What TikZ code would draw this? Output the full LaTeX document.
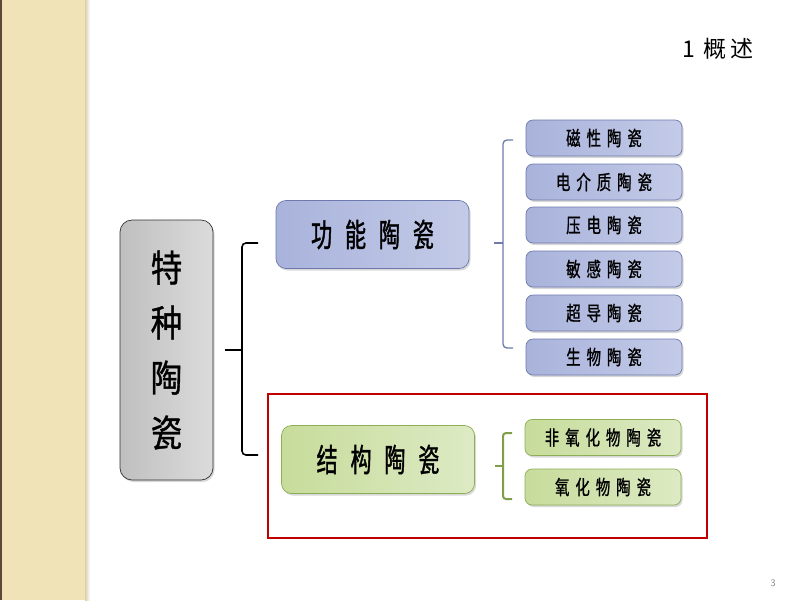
\documentclass[tikz,border=0pt]{standalone}
\usepackage{fontspec}
\usepackage{xcolor}
\usepackage{tikz}
\usetikzlibrary{shadows, calc}
\newfontfamily\cjk[LetterSpace=15]{Noto Sans CJK SC}
\newfontfamily\cjkbig[FakeStretch=0.85,FakeBold=1]{Noto Sans CJK SC}
\newfontfamily\cjkmid[FakeStretch=0.66,LetterSpace=40,FakeBold=1.2]{Noto Sans CJK SC}
\newfontfamily\cjksmall[FakeStretch=0.72,LetterSpace=30,FakeBold=1]{Noto Sans CJK SC}

\definecolor{bandbg}{HTML}{F1E3B8}
\definecolor{bandedge}{HTML}{5C4A36}
\definecolor{blueL}{HTML}{A9B3DB}
\definecolor{blueR}{HTML}{C4CBE8}
\definecolor{blueline}{HTML}{6E7AAE}
\definecolor{greenL}{HTML}{C7DC9B}
\definecolor{greenR}{HTML}{DDEAC4}
\definecolor{greenline}{HTML}{8DAE55}
\definecolor{bracegreen}{HTML}{7F9E48}
\definecolor{framered}{HTML}{C00000}

\tikzset{
    box/.style={rounded corners=7pt, draw, line width=0.7pt, inner sep=0pt,
        drop shadow={opacity=0.3, shadow xshift=1.5pt, shadow yshift=-2pt}},
    bluebox/.style={box, draw=blueline, left color=blueL, right color=blueR},
    greenbox/.style={box, draw=greenline, left color=greenL, right color=greenR},
    smallbox/.style={minimum width=156pt, minimum height=36pt, font=\cjksmall\fontsize{20}{22}\selectfont},
    midbox/.style={rounded corners=10pt, minimum width=193pt, minimum height=68pt, font=\cjkmid\fontsize{32}{34}\selectfont},
    brace/.style={line width=1.6pt, rounded corners=4pt},
}

\begin{document}
\begin{tikzpicture}[x=1pt, y=-1pt]
    \useasboundingbox (0,0) rectangle (800,600);
    \fill[white] (0,0) rectangle (800,600);

    % side band
    \fill[bandbg] (0,0) rectangle (88,600);
    \fill[bandedge] (0,0) rectangle (1.5,600);
    \fill[left color=bandbg!80!gray, right color=white] (85,0) rectangle (90,600);

    % title and page number
    \node[font=\cjk\fontsize{23}{25}\selectfont] (title) at (718,49) {1\ 概述};
    \node[font=\sffamily\fontsize{10}{12}\selectfont, text=gray] (page) at (773,583) {3};

    % main box
    \node[box, rounded corners=12pt, draw=black!80, left color=gray!50, right color=gray!28,
        minimum width=93pt, minimum height=260pt, align=center,
        font=\cjkbig\fontsize{37}{55}\selectfont] (tezhong) at (166.5,350) {特\\种\\陶\\瓷};

    % second level
    \node[bluebox, midbox] (gongneng) at (372.5,234.5) {功能陶瓷};
    \node[greenbox, midbox] (jiegou) at (378,459.5) {结构陶瓷};

    % big brace
    \coordinate (b1top) at (258,243);
    \coordinate (b1bot) at (258,455);
    \coordinate (b1tip) at (225,350);
    \draw[brace, black] (b1top) -| (242,350) |- (b1bot);
    \draw[brace, black] (242,350) -- (b1tip);

    % functional ceramics
    \node[bluebox, smallbox] (cixing) at (604,138) {磁性陶瓷};
    \node[bluebox, smallbox] (jiezhi) at (604,182) {电介质陶瓷};
    \node[bluebox, smallbox] (yadian) at (604,225) {压电陶瓷};
    \node[bluebox, smallbox] (mingan) at (604,269) {敏感陶瓷};
    \node[bluebox, smallbox] (chaodao) at (604,313) {超导陶瓷};
    \node[bluebox, smallbox] (shengwu) at (604,357) {生物陶瓷};

    \coordinate (b2top) at (513,140);
    \coordinate (b2bot) at (513,348);
    \coordinate (b2tip) at (494,243);
    \draw[brace, blueline, line width=1.3pt] (b2top) -| (503,243) |- (b2bot);
    \draw[brace, blueline, line width=1.3pt] (503,243) -- (b2tip);

    % structural ceramics
    \draw[framered, line width=1.5pt] (268,394) rectangle (707,538);
    \node[greenbox, smallbox] (feiyang) at (603,437.5) {非氧化物陶瓷};
    \node[greenbox, smallbox] (yanghua) at (603,487) {氧化物陶瓷};

    \coordinate (b3top) at (512,433);
    \coordinate (b3bot) at (512,499);
    \coordinate (b3tip) at (495,466);
    \draw[brace, bracegreen, line width=2pt, rounded corners=3pt] (b3top) -| (503,466) |- (b3bot);
    \draw[brace, bracegreen, line width=2pt, rounded corners=3pt] (503,466) -- (b3tip);
\end{tikzpicture}
\end{document}
